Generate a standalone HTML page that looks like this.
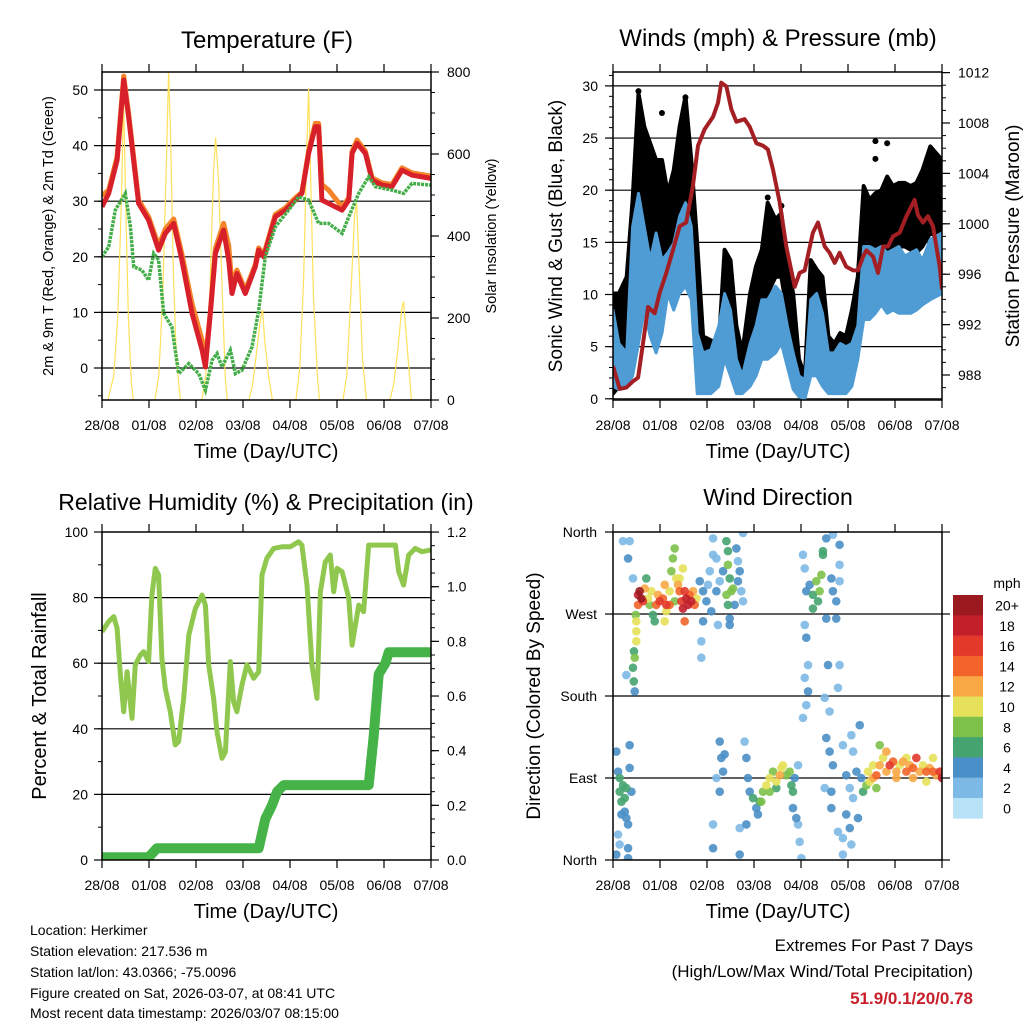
<!DOCTYPE html>
<html><head><meta charset="utf-8"><title>Station charts</title>
<style>
html,body{margin:0;padding:0;background:#fff;}
svg{display:block;font-family:"Liberation Sans",Arial,sans-serif;}
</style></head>
<body>
<svg id="root" width="1024" height="1024" viewBox="0 0 1024 1024" xmlns="http://www.w3.org/2000/svg">
<rect x="0" y="0" width="1024" height="1024" fill="#fff"/>
<text x="267" y="48" font-size="24" text-anchor="middle">Temperature (F)</text>
<text x="778" y="46" font-size="24" text-anchor="middle">Winds (mph) &amp; Pressure (mb)</text>
<text x="266" y="510" font-size="23" text-anchor="middle">Relative Humidity (%) &amp; Precipitation (in)</text>
<text x="778" y="505" font-size="23" text-anchor="middle">Wind Direction</text>

<text transform="translate(53,236) rotate(-90)" font-size="14.5" text-anchor="middle">2m &amp; 9m T (Red, Orange) &amp; 2m Td (Green)</text>
<text transform="translate(496,236) rotate(-90)" font-size="14.5" text-anchor="middle">Solar Insolation (Yellow)</text>
<text transform="translate(562,236) rotate(-90)" font-size="19" text-anchor="middle">Sonic Wind &amp; Gust (Blue, Black)</text>
<text transform="translate(1019,236) rotate(-90)" font-size="19" text-anchor="middle">Station Pressure (Maroon)</text>
<text transform="translate(46,696) rotate(-90)" font-size="20" text-anchor="middle">Percent &amp; Total Rainfall</text>
<text transform="translate(540,696) rotate(-90)" font-size="19" text-anchor="middle">Direction (Colored By Speed)</text>

<text x="266" y="458" font-size="20" text-anchor="middle">Time (Day/UTC)</text>
<text x="778" y="458" font-size="20" text-anchor="middle">Time (Day/UTC)</text>
<text x="266" y="918" font-size="20" text-anchor="middle">Time (Day/UTC)</text>
<text x="778" y="918" font-size="20" text-anchor="middle">Time (Day/UTC)</text>

<g font-size="14">
<text x="30" y="935">Location: Herkimer</text>
<text x="30" y="956">Station elevation: 217.536 m</text>
<text x="30" y="977">Station lat/lon: 43.0366; -75.0096</text>
<text x="30" y="998">Figure created on Sat, 2026-03-07, at 08:41 UTC</text>
<text x="30" y="1018">Most recent data timestamp: 2026/03/07 08:15:00</text>
</g>
<g font-size="17" text-anchor="end">
<text x="973" y="951">Extremes For Past 7 Days</text>
<text x="973" y="977">(High/Low/Max Wind/Total Precipitation)</text>
<text x="973" y="1004" font-weight="bold" fill="#c8202a">51.9/0.1/20/0.78</text>
</g>
<g id="plots"></g>
</svg>
<script>
// ---------- DATA ----------
const dayLabels = ["28/08","01/08","02/08","03/08","04/08","05/08","06/08","07/08"];
const tempHours = [0,3.4,7.7,11.1,13.6,18.7,23.8,28.9,32.3,36.6,40.8,46,51.1,52.8,55.3,57.9,62.1,64.7,66.4,68.9,73.2,78.3,80,82.6,88.5,93.6,98.7,102.1,105.5,108.9,110.6,112.3,115.7,119.1,122.6,126,127.7,130.2,134.5,137.9,143,148.1,153.2,158.3,168];
const temp2m = [29,31.4,37.4,51.8,45.2,29.6,26.6,21.2,24.2,26,19.4,9.8,3.2,0.2,9.8,20.6,24.8,19.4,13.4,17,13.4,18.2,21.2,20,27.2,28.4,30.2,31.4,38.6,43.4,43.4,30.2,29.6,29,28.4,30.2,38.6,40.4,38.6,33.8,32.9,32.6,35.6,34.7,34.1];
const temp9m = [31,32,38,52.5,45.8,30.2,27.2,22,25,26.8,20.5,11.5,5,1.5,10,21.5,26,22,15,17.6,14,18.6,21.6,20.4,27.6,28.8,30.6,31.6,39,44,44,33,32,30.5,29,30.6,39,41,39,34.2,33.3,33,36,35.1,34.5];
const dewHours = [0,3.4,6.8,11.9,14.5,16.2,20.4,23.8,26.4,28.9,31.5,35.7,39.1,44.3,49.4,52.8,56.2,58.7,61.3,65.5,68.1,71.5,76.6,80,83.4,88.5,95.3,100.4,105.5,110.6,115.7,122.6,126,131.1,136.2,139.6,148.1,154,158.3,168];
const dew2m = [20,21.8,28.4,31.4,25.4,18.2,17.6,15.8,20.6,19.4,9.8,7.4,-1,0.8,-1,-4,1.4,2.6,0.2,3.2,-1,-0.4,3.8,10.4,20,25.4,28.4,30.8,30.2,26,26,24.2,27.2,31.4,34.4,32.6,32,31.4,33.2,32.9];
const solarHours = [0,3,6,8,10,11,12,13.5,15,16,27,29,31,33,34,35,36.5,38,40,51,53,55,57,58,59.5,61.5,63,64,75,77,79,81,82,83,85,87,99,101,103,104.5,105.5,106.5,108,110,111,123,125,127,129,130,131.5,133,135,147,149,151,153,154,155,157,158,168];
const solarVals = [0,0,60,200,500,750,500,200,40,0,0,60,250,600,800,650,300,100,0,0,60,250,560,640,540,250,50,0,0,40,120,200,220,150,60,0,0,80,300,600,760,550,250,60,0,0,60,250,450,480,300,100,0,0,40,120,220,240,180,60,0,0];
const windHours = [0,3,7,10,13,16,19,22,25,28,31,34,37,40,43,46,50,54,57,60,63,66,70,73,76,79,83,86,89,92,95,98,101,104,107,110,113,116,119,122,125,128,131,134,137,140,143,146,149,152,155,158,162,168];
const gustHi = [10.1,10.1,11.7,19.1,29.3,26.1,24.5,22.9,22.9,19.7,21.9,26.1,29,22.9,14.9,6,5.6,5.3,14.3,13.3,7,4.4,10.1,12.7,14.3,18.8,17.2,17.8,12.7,10.1,3.8,2.2,13.3,12.4,11.7,6,5.3,6.3,6,8.5,11.7,20.4,19.1,19.7,20,21.3,20.4,20.7,20.7,20.4,20.7,21.9,24.2,22.9];
const gustLo = [0.5,1.2,2.2,7,18.1,16.5,10.1,7,10.1,11.7,13.3,16.5,18.1,14,4.7,1.2,2.2,2.2,10.1,3.8,3.8,2.2,4.7,7,8.5,10.1,11.7,11.7,8.2,4.4,0.5,0.2,5.3,7,4.4,2.2,2.2,2.5,2.2,3.8,7,11.7,12,12.7,13.3,13.3,14,14.6,14.6,14.3,14,14.6,15.9,15.3];
const windHi = [8.5,5.3,4.4,16.5,19.7,16.5,13.3,15.9,13.3,14,14.9,17.5,18.8,16.5,6.3,4.4,4.7,7,10.1,8.5,3.8,2.2,5.3,7,9.5,9.5,10.8,10.1,7,4.4,2.2,1.8,9.5,10.1,8.2,4.4,4.4,5.3,5,5.3,7,14.6,14.6,14.3,14.6,14,14.3,14.6,13.7,14,14.3,13.3,15.3,15.9];
const windLo = [1.2,0.9,1.2,2.2,5.3,8.5,6,4.4,6.3,10.1,8.5,10.1,10.8,9.5,0.5,0.5,0.5,1.2,3.8,2.2,0.5,0.5,1.2,2.2,3.8,3.8,4.4,5.3,3.1,0.9,0.2,0,2.2,2.2,1.2,0.5,0.5,0.5,0.5,1.2,3.8,7.6,7.6,8.2,9,8.2,8.5,8.2,8.2,8.2,8.5,9,9.5,10.1];
const gustOutliers = [[25,27.4],[13,29.5],[37,28.9],[134,24.7],[134,23],[140,24.5],[86,18.5],[79,19.3]];
const presHours = [0,3.4,6.8,10.2,12.8,15.3,17.9,21.3,23.8,27.2,30.6,34,37.4,40.8,43.4,46.8,51.1,53.6,55.3,57.9,60.4,63,67.2,69.8,73.2,76.6,79.1,81.7,85.1,88.5,92.8,95.3,97.9,102.1,104.7,108.1,110.6,113.2,115.7,119.1,122.6,125.1,127.7,129.4,132.8,135.3,137.9,140.4,143,146.4,149.8,154,155.7,158.3,160.8,163.4,166.8,168];
const presVals = [988.7,986.9,987,987.5,987.8,990.5,993.4,992.9,994.5,996.1,997.9,999.8,1000.1,1003,1006.2,1007.5,1008.5,1009.6,1011.2,1010.9,1009.1,1008.1,1008.3,1007.7,1006.4,1006.2,1005.9,1004.3,1001.7,998.2,995,996.1,996.3,999.3,1000.1,998.2,997.7,996.9,997.7,996.6,996.3,996.3,997.4,997.9,997.4,996.1,998.2,998.2,999,999.3,1000.6,1001.9,1000.7,1000.1,1000.6,999.8,996.6,994.8];
const rhHours = [0,3.4,6,7.7,9.4,11.1,12.8,15.3,17,19.6,21.3,23.8,25.5,27.2,28.9,30.6,32.3,34.9,37.4,39.1,41.7,44.3,47.7,51.1,52.8,54.5,57,58.7,61.3,63,65.5,67.2,68.9,71.5,74,77.4,80,81.7,84.2,87.7,91.9,96.2,100.4,102.1,104.7,107.2,109.8,111.5,114,116.6,118.3,120,122.6,126,127.7,131.1,133.6,136.2,138.7,144.7,149.8,151.5,154,156.6,160,163.4,168];
const rhVals = [69.6,72.7,74.2,70.6,56.4,45.2,57.4,43.2,59.5,62.5,63.5,60.5,80.8,88.9,86.9,61.5,52.3,45.2,35.1,36.1,49.3,68.6,76.7,80.8,77.7,59.5,49.3,39.1,31,33,60.5,48.3,45.2,53.4,59.5,55.4,57.4,86.9,92,95,95.5,95.5,97,96,83.8,59.5,49.3,81.8,90.9,93,81.8,88.9,87.9,79.8,65.5,77.7,75.7,96,96,96,96,87.9,83.8,93,95,94,94.5];
const precipHours = [0,23.8,28.1,80,83.4,86.8,89.4,92.8,136.2,138.7,141.3,144.7,146.4,168];
const precipVals = [0.01,0.01,0.043,0.043,0.15,0.2,0.25,0.274,0.274,0.45,0.68,0.72,0.76,0.76];
const dirPoints = [
[1.7,119,4],[2.6,97,4],[3.4,75,6],[4.3,64,6],[5.1,82,6],[6,53,4],[6.8,46,4],[7.7,39,4],[2.6,28,2],[3.4,17,2],[7.7,13,4],[8.5,126,4],[8.5,101,4],[9.4,75,4],[1.7,6,4],[7.7,2,4],[3.4,90,6],[6,68,7],[6.8,79,6],[4.3,50,4],[5.1,350,2],[8.5,350,2],[7.7,331,4],[10.2,309,2],[6.8,203,2],
[11.1,185,4],[10.6,196,6],[10.2,211,6],[11.1,222,8],[10.7,229,6],[11.9,240,10],[11.9,251,10],[11.9,262,10],[11.6,269,8],
[12.8,291,18],[13.6,295,20],[14.5,287,20],[15.3,284,16],[12.8,280,14],[16.2,298,12],[17,309,6],[17.9,287,10],[18.7,280,8],[20.4,269,6],[21.3,262,6],[22.1,280,14],[23.8,284,16],[25.5,287,14],[26.4,302,12],[27.2,280,16],[27.2,273,10],[28.9,295,10],[30.6,331,8],[31.5,342,8],[29.8,317,8],[32.3,309,10],[33.2,302,12],[34,295,14],[34.9,284,16],[35.7,276,18],[36.6,295,16],[37.4,287,18],[38.3,280,18],[39.1,291,14],[40,284,18],[40.9,295,12],[41.7,280,14],[35.7,320,10],[36.6,262,14],[34,309,11],[42.6,287,10],[28.9,280,14],[23,291,12],[19.6,295,10],[31.5,284,9],[26.4,262,10],
[44.3,306,4],[46,295,4],[47.7,284,4],[49.4,317,2],[51.1,353,2],[51.1,335,2],[50.2,273,4],[52.8,295,4],[53.6,258,2],[46,262,4],[48.5,302,2],[54.5,306,2],[57.9,350,6],[58.7,339,6],[58.7,324,8],[59.6,309,6],[57.9,291,8],[58.7,280,6],[60.4,295,8],[59.6,265,4],[59.6,258,4],[61.3,298,8],[63,342,4],[63.8,328,2],[64.7,317,4],[65.5,295,2],[66.4,359,2],[63.8,306,4],[66.4,284,2],[62.1,280,4],[45.1,240,2],[45.1,222,2],[56.2,317,4],[52.8,331,2],
[51.1,39,2],[51.1,13,4],[54.5,130,4],[55.3,112,4],[56.2,97,4],[54.5,75,4],[57,116,4],[52.8,90,2],[64.7,6,4],[67.2,130,2],[68.1,112,4],[68.9,90,4],[69.8,75,4],[68.1,39,4],[64.7,35,2],[71.5,68,6],[73.2,57,4],[74.9,64,6],[76.6,75,8],[78.3,82,10],[80,90,10],[81.7,97,8],[83.4,86,10],[85.1,93,12],[86,101,10],[86.8,104,10],[88.5,93,8],[90.2,97,8],[91.1,82,6],[91.9,75,6],[92.8,90,4],[94.5,104,2],[93.6,46,4],[94.5,39,2],[95.3,20,2],[96.2,2,2],[91.9,57,4],[75.7,64,8],[80,75,8],[83.4,79,6],[74,50,4],
[97,335,2],[97.9,320,2],[98.7,295,4],[100.4,302,4],[102.1,291,6],[102.1,276,6],[103.8,306,8],[105.5,295,8],[106.4,313,8],[107.2,335,6],[104.7,284,6],[107.2,339,6],[108.9,353,4],[111.5,309,4],[112.3,295,4],[114,284,4],[115.7,306,2],[115.7,324,2],[108.9,265,4],[114,265,4],[97.9,258,2],[98.7,244,4],[99.6,214,2],[99.6,185,4],[98.7,170,2],[97.9,200,2],[97,156,2],[109.8,214,4],[108.1,178,2],[110.6,163,2],[114.9,189,2],[115.7,214,2],[115.7,346,4],[112.3,357,2],
[108.9,134,4],[110.6,119,4],[112.3,104,4],[108.1,79,2],[117.4,126,2],[121.7,137,2],[122.6,119,2],[126,148,4],[119.1,93,4],[120.9,79,2],[122.6,68,2],[119.1,50,4],[120.9,35,4],[117.4,24,2],[121.7,17,2],[117.4,6,2],[124.3,97,4],[126.8,90,4],[127.7,75,6],[129.4,82,8],[111.5,57,4],[111.5,75,4],[114.9,31,2],[125.1,46,4],
[130.2,97,10],[131.1,86,10],[132.8,90,12],[134.5,93,14],[136.2,104,12],[136.2,126,8],[137.9,112,10],[139.6,119,12],[141.3,104,16],[143,108,14],[144.7,97,12],[146.4,104,10],[148.1,108,12],[149.8,97,14],[151.5,104,12],[153.2,101,14],[154.9,112,16],[156.6,97,12],[158.3,104,10],[160,97,14],[161.7,101,12],[163.4,97,14],[165.1,93,12],[166.8,97,16],[168,90,18],[144.7,90,12],[153.2,90,12],[160,86,10],[139.6,97,12],[149.8,112,10],[163.4,112,10],[132.8,104,10],[134.5,79,8]
];
const speedBins = ["0","2","4","6","8","10","12","14","16","18","20+"];
const speedColors = ["#b7e2f8","#7db9e5","#4a8fc7","#45a46f","#7dc14a","#e6e15a","#f8a946","#f26429","#e2392b","#c21f2a","#9a1a1f"];
const tempTicks = [0,10,20,30,40,50];
const solarTicks = [0,200,400,600,800];
const windTicks = [0,5,10,15,20,25,30];
const presTicks = [988,992,996,1000,1004,1008,1012];
const rhTicks = [0,20,40,60,80,100];
const precipTicks = [0,0.2,0.4,0.6,0.8,1.0,1.2];
const dirTicks = [0,90,180,270,360];
const dirLabels = ["North","East","South","West","North"];

// ---------- GEOMETRY ----------
const NS="http://www.w3.org/2000/svg";
const root=document.getElementById('plots');
const HMAX=168;
const PT={x0:102,x1:431,y0:72,y1:400}, PW={x0:613,x1:942,y0:72,y1:400}, PR={x0:102,x1:431,y0:532,y1:860}, PD={x0:613,x1:942,y0:532,y1:860};
function xs(p,h){return p.x0+Math.min(h,HMAX)/HMAX*(p.x1-p.x0);}
function yT(v){return 368-v*5.56;}
function ySol(v){return 400-v*0.41;}
function yW(v){return 398.8-v*10.43;}
function yP(v){return 375-(v-988)*12.6;}
function yRH(v){return 860-v*3.28;}
function yPr(v){return 860-v*273.3;}
function yD(v){return 860-v*0.9111;}
function mk(tag,attrs,parent){const e=document.createElementNS(NS,tag);for(const k in attrs)e.setAttribute(k,attrs[k]);(parent||root).appendChild(e);return e;}
function clip(id,p){const d=mk('defs',{});const c=mk('clipPath',{id:id},d);mk('rect',{x:p.x0,y:p.y0,width:p.x1-p.x0,height:p.y1-p.y0},c);}
function path(pts){return pts.map((q,i)=>(i?'L':'M')+q[0].toFixed(1)+','+q[1].toFixed(1)).join('');}
function series(p,hours,vals,yf){return hours.map((h,i)=>[xs(p,h),yf(vals[i])]);}
clip('cT',PT);clip('cW',PW);clip('cR',PR);clip('cD',PD);

function gridLines(p,vals,yf,name){
  for(const v of vals){const y=yf(v); if(y<=p.y0+1||y>=p.y1-1) continue;
    const l=mk('line',{x1:p.x0,x2:p.x1,y1:y,y2:y,stroke:'#000','stroke-width':1.2});
    
    }
}
function frame(p,name){
  const r=mk('rect',{x:p.x0,y:p.y0,width:p.x1-p.x0,height:p.y1-p.y0,fill:'none',stroke:'#000','stroke-width':1.5});
  
  
  for(let d=0;d<=7;d++){const x=p.x0+d*(p.x1-p.x0)/7;
    const t=mk('line',{x1:x,x2:x,y1:p.y1,y2:p.y1+8,stroke:'#000','stroke-width':1.2});
    
    
    mk('line',{x1:x,x2:x,y1:p.y0,y2:p.y0-8,stroke:'#000','stroke-width':1.2});
    const tx=mk('text',{x:x,y:p.y1+30,'font-size':14,'text-anchor':'middle'});
    tx.textContent=dayLabels[d];
    
    }
}
function leftAxis(p,vals,labels,yf,minorStep,lo,hi,lx){
  for(let i=0;i<vals.length;i++){const y=yf(vals[i]);
    mk('line',{x1:p.x0-8,x2:p.x0,y1:y,y2:y,stroke:'#000','stroke-width':1.2});
    const t=mk('text',{x:lx,y:y+5,'font-size':14,'text-anchor':'end'});t.textContent=labels[i];
    
    }
  if(minorStep) for(let v=lo;v<=hi+1e-9;v+=minorStep){const y=yf(v); if(y<p.y0-0.5||y>p.y1+0.5)continue; mk('line',{x1:p.x0-4,x2:p.x0,y1:y,y2:y,stroke:'#000','stroke-width':1});}
}
function rightAxis(p,vals,labels,yf,minorStep,lo,hi){
  for(let i=0;i<vals.length;i++){const y=yf(vals[i]);
    mk('line',{x1:p.x1,x2:p.x1+8,y1:y,y2:y,stroke:'#000','stroke-width':1.2});
    const t=mk('text',{x:p.x1+16,y:y+5,'font-size':14,'text-anchor':'start'});t.textContent=labels[i];
    
    }
  if(minorStep) for(let v=lo;v<=hi+1e-9;v+=minorStep){const y=yf(v); if(y<p.y0-0.5||y>p.y1+0.5)continue; mk('line',{x1:p.x1,x2:p.x1+4,y1:y,y2:y,stroke:'#000','stroke-width':1});}
}

// ---------- TEMPERATURE ----------
gridLines(PT,tempTicks,yT,'temperature');
let g=mk('g',{'clip-path':'url(#cT)'});


let e=mk('path',{d:path(series(PT,solarHours,solarVals,ySol)),fill:'none',stroke:'#ffe15a','stroke-width':1.2},g);


e=mk('path',{d:path(series(PT,tempHours,temp9m,yT)),fill:'none',stroke:'#f5832a','stroke-width':5,'stroke-linejoin':'round'},g);


e=mk('path',{d:path(series(PT,tempHours,temp2m,yT)),fill:'none',stroke:'#d7202a','stroke-width':5,'stroke-linejoin':'round'},g);


e=mk('path',{d:path(series(PT,dewHours,dew2m,yT)),fill:'none',stroke:'#43ae48','stroke-width':3.5,'stroke-dasharray':'3 1'},g);


frame(PT,'temperature');
leftAxis(PT,tempTicks,tempTicks.map(String),yT,5,-5,55,88);
rightAxis(PT,solarTicks,solarTicks.map(String),ySol,50,0,800);

// ---------- WINDS ----------
gridLines(PW,windTicks,yW,'wind');
g=mk('g',{'clip-path':'url(#cW)'});


function band(p,hours,hi,lo,yf){const a=hours.map((h,i)=>[xs(p,h),yf(hi[i])]);const b=hours.map((h,i)=>[xs(p,h),yf(lo[i])]).reverse();return path(a.concat(b))+'Z';}
e=mk('path',{d:band(PW,windHours,gustHi,gustLo,yW),fill:'#000',stroke:'#000','stroke-width':4,'stroke-linejoin':'round'},g);


for(const o of gustOutliers){e=mk('circle',{cx:xs(PW,o[0]),cy:yW(o[1]),r:3,fill:'#000'},g);

}
e=mk('path',{d:band(PW,windHours,windHi,windLo,yW),fill:'#4f9bd4',stroke:'#4f9bd4','stroke-width':3,'stroke-linejoin':'round'},g);


e=mk('path',{d:path(series(PW,presHours,presVals,yP)),fill:'none',stroke:'#a31f24','stroke-width':4,'stroke-linejoin':'round'},g);


frame(PW,'wind');
leftAxis(PW,windTicks,windTicks.map(String),yW,1,0,31,598);
rightAxis(PW,presTicks,presTicks.map(String),yP,1,987,1013);

// ---------- HUMIDITY ----------
gridLines(PR,rhTicks,yRH,'humidity');
g=mk('g',{'clip-path':'url(#cR)'});


e=mk('path',{d:path(series(PR,rhHours,rhVals,yRH)),fill:'none',stroke:'#90c84f','stroke-width':5,'stroke-linejoin':'round'},g);


e=mk('path',{d:path(series(PR,precipHours,precipVals,yPr)),fill:'none',stroke:'#45b347','stroke-width':10,'stroke-linejoin':'round'},g);


frame(PR,'humidity');
leftAxis(PR,rhTicks,rhTicks.map(String),yRH,10,0,100,88);
rightAxis(PR,precipTicks,precipTicks.map(v=>v.toFixed(1)),yPr,0.05,0,1.2);

// ---------- WIND DIRECTION ----------
gridLines(PD,dirTicks,yD,'direction');
g=mk('g',{'clip-path':'url(#cD)'});


const order=dirPoints.slice().sort((a,b)=>a[2]-b[2]);
for(const q of order){const bi=Math.min(10,Math.floor(q[2]/2));
  e=mk('circle',{cx:xs(PD,q[0]),cy:yD(q[1]),r:4.3,fill:speedColors[bi],'fill-opacity':0.9},g);
  
  }
frame(PD,'direction');
leftAxis(PD,dirTicks,dirLabels,yD,0,0,0,597);
for(const v of dirTicks){mk('line',{x1:PD.x1,x2:PD.x1+8,y1:yD(v),y2:yD(v),stroke:'#000','stroke-width':1.2});}
const cbg=mk('g',{});


let ct=mk('text',{x:1007,y:588,'font-size':14,'text-anchor':'middle'},cbg);ct.textContent='mph';


for(let i=0;i<11;i++){const idx=10-i;const y=595+i*20.3;
  e=mk('rect',{x:953,y:y,width:30,height:20.6,fill:speedColors[idx]},cbg);
  
  
  const t=mk('text',{x:1007,y:y+15.5,'font-size':14,'text-anchor':'middle'},cbg);t.textContent=speedBins[idx];
  
  }
</script>
</body></html>
